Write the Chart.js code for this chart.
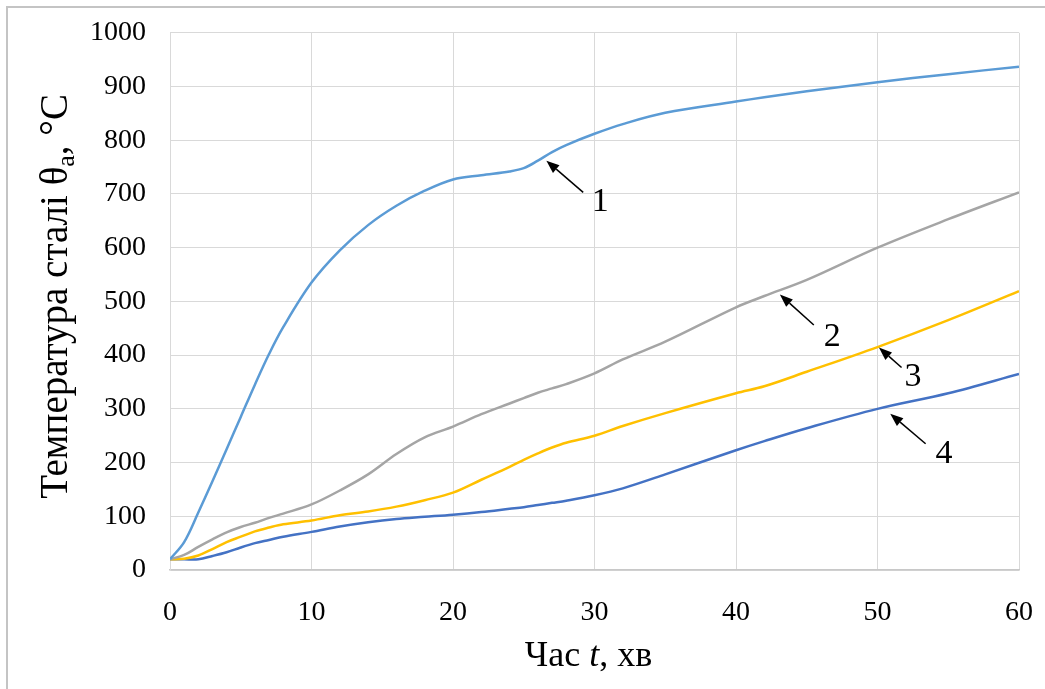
<!DOCTYPE html>
<html>
<head>
<meta charset="utf-8">
<script src="https://cdn.jsdelivr.net/npm/chart.js@4.4.1/dist/chart.umd.min.js"></script>
<style>
  html, body { margin: 0; padding: 0; background: #fff; overflow: hidden; }
  #frame { position: absolute; left: 6px; top: 6px; width: 1100px; height: 720px;
           border-left: 2px solid #c4c4c4; border-top: 2px solid #c4c4c4; }
  #wrap { position: absolute; left: 0; top: -8px; width: 1059px; height: 697px; }
</style>
</head>
<body>
<div id="frame"></div>
<div id="wrap"><canvas id="steelChart"></canvas></div>
<script>
// time, min
const minutes = [0, 1, 2, 3, 4, 5, 6, 7, 8, 10, 12, 14, 16, 18, 20, 22, 24, 25, 26, 27, 28, 30, 32, 35, 40, 42, 45, 50, 55, 60];
// steel temperature, °C
const curve1 = [20, 52, 107, 165, 225, 285, 345, 402, 452, 535, 595, 642, 678, 706, 727, 735, 742, 748, 762, 778, 791, 812, 830, 851, 872, 880, 891, 908, 923, 937];
const curve2 = [20, 28, 43, 57, 70, 80, 88, 97, 105, 122, 148, 178, 216, 247, 267, 290, 310, 320, 330, 338, 346, 366, 392, 425, 489, 510, 540, 600, 653, 703];
const curve3 = [20, 21, 27, 39, 52, 62, 72, 79, 85, 92, 102, 109, 118, 130, 144, 168, 192, 205, 217, 228, 237, 250, 268, 292, 329, 342, 369, 415, 465, 519];
const curve4 = [20, 20, 20, 26, 33, 42, 50, 56, 62, 71, 81, 89, 95, 99, 103, 108, 114, 117, 121, 125, 129, 139, 152, 178, 223, 240, 264, 300, 329, 365];

const seriesNames = ['1', '2', '3', '4'];
const seriesColors = ['#5B9BD5', '#A5A5A5', '#FFC000', '#4472C4'];

// callouts: label, arrow tip (x, y), arrow tail (x, y), label centre (x, y) - in data units
const callouts = [
    ['1', 26.6, 762, 29.2, 703, 30.4, 684],
    ['2', 43.1, 513, 45.5, 456, 46.8, 434],
    ['3', 50.1, 414, 51.7, 377, 52.5, 360],
    ['4', 50.9, 291, 53.4, 235, 54.7, 215]
];

const serif = '"Liberation Serif", "Times New Roman", serif';

function points(values) {
    return minutes.map((t, i) => ({ x: t, y: values[i] }));
}

// arrows with numbers next to the curves
const calloutPlugin = {
    id: 'callouts',
    afterDatasetsDraw(chart) {
        const { ctx, scales: { x, y } } = chart;
        ctx.save();
        ctx.strokeStyle = '#000';
        ctx.fillStyle = '#000';
        ctx.lineWidth = 1.5;
        callouts.forEach(([text, tx, ty, sx, sy, lx, ly]) => {
            const x1 = x.getPixelForValue(tx), y1 = y.getPixelForValue(ty);
            const x0 = x.getPixelForValue(sx), y0 = y.getPixelForValue(sy);
            const ang = Math.atan2(y1 - y0, x1 - x0);
            const head = 13, half = 5;
            const bx = x1 - head * Math.cos(ang), by = y1 - head * Math.sin(ang);
            ctx.beginPath();
            ctx.moveTo(x0, y0);
            ctx.lineTo(bx, by);
            ctx.stroke();
            ctx.beginPath();
            ctx.moveTo(x1, y1);
            ctx.lineTo(bx + half * Math.sin(ang), by - half * Math.cos(ang));
            ctx.lineTo(bx - half * Math.sin(ang), by + half * Math.cos(ang));
            ctx.closePath();
            ctx.fill();
            ctx.font = '34px ' + serif;
            ctx.textAlign = 'center';
            ctx.textBaseline = 'middle';
            ctx.fillText(text, x.getPixelForValue(lx), y.getPixelForValue(ly));
        });
        ctx.restore();
    }
};

// axis titles with subscript / italic parts
function drawRuns(ctx, runs, cx, cy) {
    let total = 0;
    runs.forEach(r => { ctx.font = r.font; r.w = ctx.measureText(r.text).width; total += r.w; });
    let pos = cx - total / 2;
    runs.forEach(r => {
        ctx.font = r.font;
        ctx.fillText(r.text, pos, cy + (r.dy || 0));
        pos += r.w;
    });
}

const titlePlugin = {
    id: 'axisTitles',
    afterDraw(chart) {
        const { ctx, chartArea } = chart;
        ctx.save();
        ctx.fillStyle = '#000';
        ctx.textAlign = 'left';
        ctx.textBaseline = 'middle';
        // y title
        ctx.save();
        ctx.translate(57, (chartArea.top + chartArea.bottom) / 2 - 5);
        ctx.rotate(-Math.PI / 2);
        drawRuns(ctx, [
            { text: 'Температура сталі θ', font: '39px ' + serif },
            { text: 'a', font: '26px ' + serif, dy: 10 },
            { text: ', °C', font: '39px ' + serif }
        ], 0, 0);
        ctx.restore();
        // x title
        drawRuns(ctx, [
            { text: 'Час ', font: '36px ' + serif },
            { text: 't', font: 'italic 36px ' + serif },
            { text: ', хв', font: '36px ' + serif }
        ], (chartArea.left + chartArea.right) / 2 - 6, chartArea.bottom + 87);
        ctx.restore();
    }
};

document.addEventListener('DOMContentLoaded', () => {
    const ctx = document.getElementById('steelChart');

    new Chart(ctx, {
        type: 'line',
        data: {
            datasets: [curve1, curve2, curve3, curve4].map((vals, i) => ({
                label: seriesNames[i],
                data: points(vals),
                borderColor: seriesColors[i],
                borderWidth: 2.5,
                pointRadius: 0,
                fill: false,
                tension: 0.35
            }))
        },
        options: {
            responsive: true,
            maintainAspectRatio: false,
            animation: false,
            layout: { padding: { top: 24, right: 14, left: 0, bottom: 0 } },
            plugins: {
                legend: { display: false },
                tooltip: { enabled: false }
            },
            scales: {
                x: {
                    type: 'linear',
                    min: 0,
                    max: 60,
                    afterFit: (s) => { s.height = 119; },
                    grid: { color: '#d9d9d9', drawTicks: false },
                    border: { color: '#c8c8c8', width: 1.5 },
                    ticks: {
                        stepSize: 10,
                        padding: 26,
                        color: '#000',
                        font: { family: serif, size: 28 },
                        callback: (v) => String(v)
                    }
                },
                y: {
                    min: 0,
                    max: 1000,
                    afterFit: (s) => { s.width = 170; },
                    grid: { color: '#d9d9d9', drawTicks: false },
                    border: { color: '#d9d9d9' },
                    ticks: {
                        stepSize: 100,
                        padding: 24,
                        color: '#000',
                        font: { family: serif, size: 28 },
                        callback: (v) => String(v)
                    }
                }
            }
        },
        plugins: [calloutPlugin, titlePlugin]
    });
});
</script>
</body>
</html>
